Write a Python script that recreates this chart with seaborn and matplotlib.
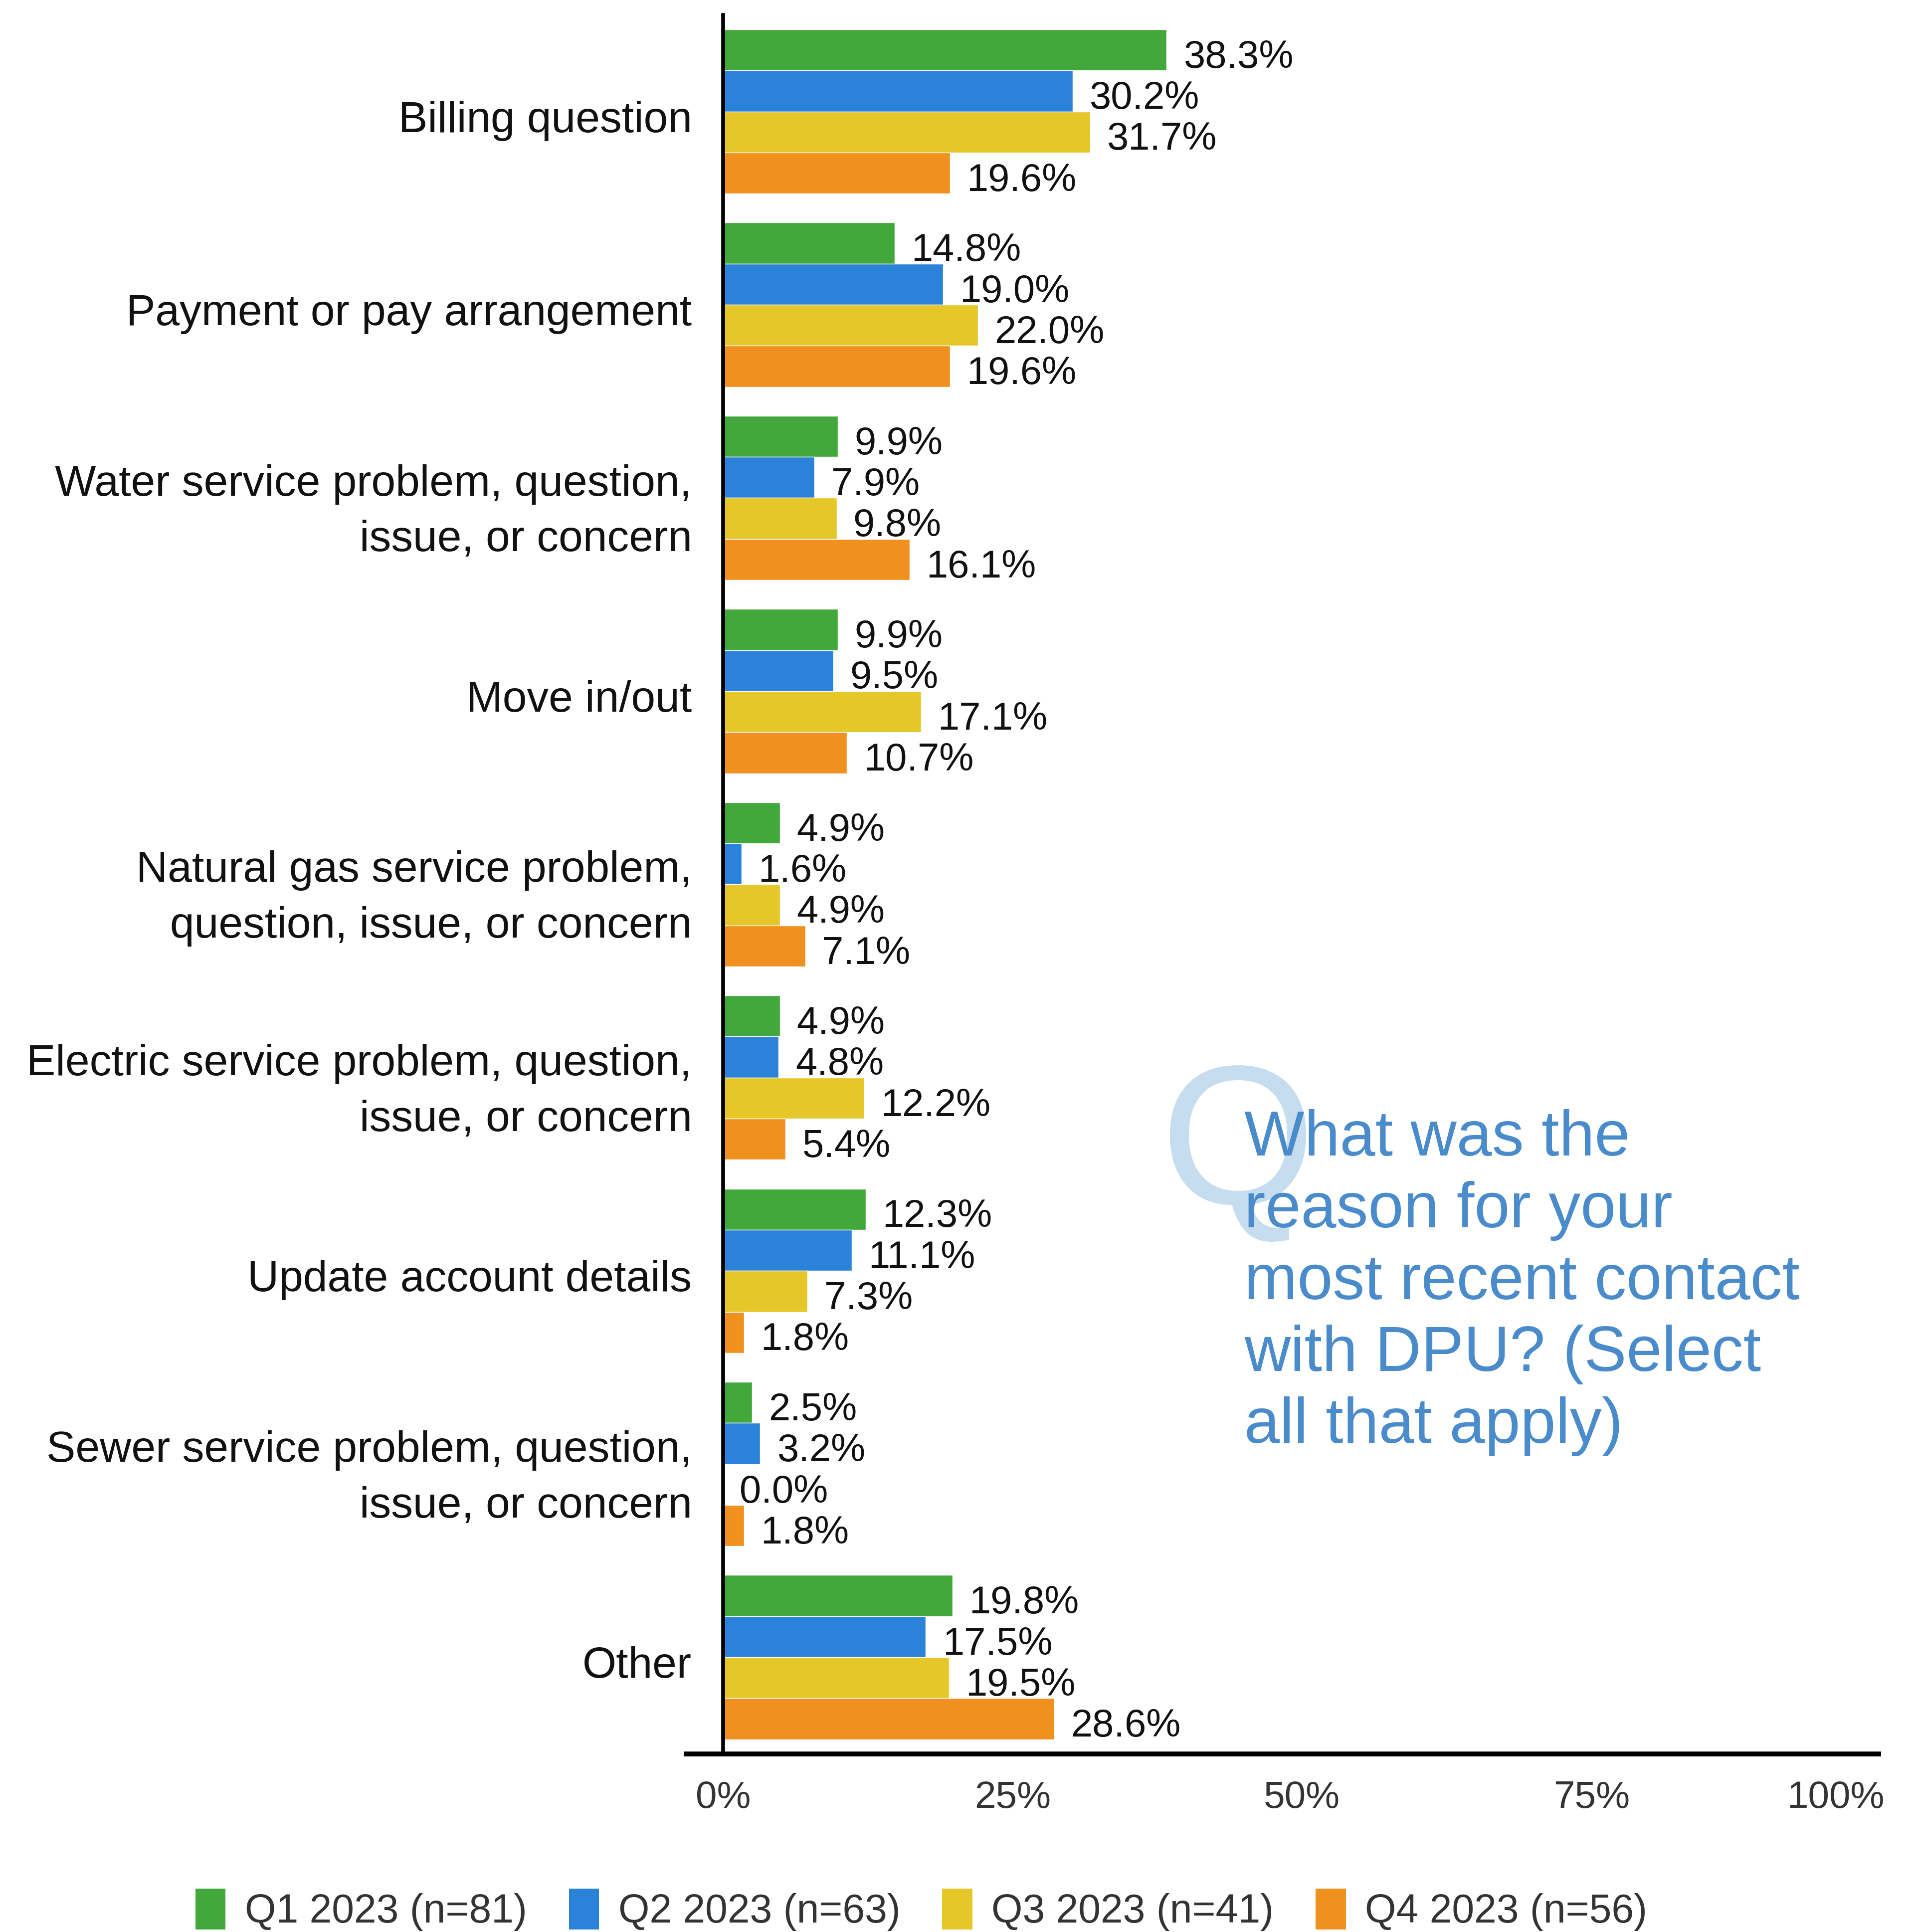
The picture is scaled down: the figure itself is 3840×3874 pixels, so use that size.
import numpy as np
import pandas as pd
import matplotlib
matplotlib.use("Agg")
import matplotlib.pyplot as plt
import matplotlib.transforms as mtransforms
import seaborn as sns
from matplotlib.patches import Patch
from matplotlib.lines import Line2D

categories = [
    "Billing question",
    "Payment or pay arrangement",
    "Water service problem, question,\nissue, or concern",
    "Move in/out",
    "Natural gas service problem,\nquestion, issue, or concern",
    "Electric service problem, question,\nissue, or concern",
    "Update account details",
    "Sewer service problem, question,\nissue, or concern",
    "Other",
]
quarters = ["Q1 2023 (n=81)", "Q2 2023 (n=63)", "Q3 2023 (n=41)", "Q4 2023 (n=56)"]
q1_values = [38.3, 14.8, 9.9, 9.9, 4.9, 4.9, 12.3, 2.5, 19.8]
q2_values = [30.2, 19.0, 7.9, 9.5, 1.6, 4.8, 11.1, 3.2, 17.5]
q3_values = [31.7, 22.0, 9.8, 17.1, 4.9, 12.2, 7.3, 0.0, 19.5]
q4_values = [19.6, 19.6, 16.1, 10.7, 7.1, 5.4, 1.8, 1.8, 28.6]
x_ticks = [0, 25, 50, 75, 100]
x_tick_labels = ["0%", "25%", "50%", "75%", "100%"]
question = "What was the\nreason for your\nmost recent contact\nwith DPU? (Select\nall that apply)"
colors = ["#43A83B", "#2B82D9", "#E5C72A", "#F0901E"]

rows = []
for q, vals in zip(quarters, [q1_values, q2_values, q3_values, q4_values]):
    for c, v in zip(categories, vals):
        rows.append({"category": c, "quarter": q, "value": v})
df = pd.DataFrame(rows)

sns.set_style("white")
plt.rcParams["font.family"] = ["Liberation Sans", "DejaVu Sans"]

fig = plt.figure(figsize=(38.41, 38.74), dpi=100)
ax = fig.add_axes([0.3775, 0.0922, 0.6045, 0.9001])

sns.barplot(data=df, x="value", y="category", hue="quarter", order=categories,
            hue_order=quarters, palette=colors, orient="h", width=0.85, gap=0,
            saturation=1, errorbar=None, legend=False, ax=ax)

for cont in ax.containers:
    anns = ax.bar_label(cont, labels=[f"{b.get_width():.1f}%" for b in cont],
                        padding=24, fontsize=56, color="#111111")
    for a in anns:
        a.xyann = (24, -11)

ax.set_xlim(0, 100)
ax.set_ylim(len(categories) - 0.5, -0.5)
ax.set_xlabel("")
ax.set_ylabel("")
ax.set_xticks(x_ticks)
ax.set_xticklabels(x_tick_labels, fontsize=55, color="#333333")
ax.tick_params(axis="x", length=0, pad=38)

ax.set_yticks(range(len(categories)))
ax.set_yticklabels(categories, fontsize=63, color="#111111")
ax.set_yticks(np.arange(-0.5, len(categories) + 0.5, 1.0), minor=True)
ax.tick_params(axis="y", which="major", length=0, pad=45)
ax.tick_params(axis="y", which="minor", length=53, width=5.5, color="black", direction="out")

for s in ["top", "right", "bottom"]:
    ax.spines[s].set_visible(False)
ax.spines["left"].set_linewidth(5.5)
ax.spines["left"].set_color("black")
ax.grid(False)

ax.add_line(Line2D([-0.034, 1.0], [0, 0], transform=ax.transAxes, color="black",
                   linewidth=7, clip_on=False, solid_capstyle="butt"))

# fine placement of labels
for lbl in ax.get_yticklabels():
    multi = "\n" in lbl.get_text()
    lbl.set_linespacing(1.49)
    dy = -3 if multi else -7
    lbl.set_transform(lbl.get_transform() +
                      mtransforms.ScaledTranslation(0, dy / 72, fig.dpi_scale_trans))
xlbls = ax.get_xticklabels()
xlbls[-1].set_horizontalalignment("right")
xlbls[-1].set_transform(xlbls[-1].get_transform() +
                        mtransforms.ScaledTranslation(0.07, 0, fig.dpi_scale_trans))

fig.text(0.6463, 0.3765, "Q", ha="center", va="baseline", fontsize=288, color="#C6DCEF", zorder=1)
fig.text(0.6495, 0.426, question, ha="left", va="top", fontsize=92, color="#4A8BCB",
         linespacing=1.26, zorder=2)

handles = [Patch(facecolor=c, edgecolor="none", label=q) for c, q in zip(colors, quarters)]
fig.legend(handles=handles, loc="center", bbox_to_anchor=(0.481, 0.0115), ncol=4,
           frameon=False, fontsize=58, handlelength=0.75, handleheight=1.2,
           handletextpad=0.48, columnspacing=1.04, labelcolor="#333333")

fig.savefig("out.png", dpi=100, facecolor="white")
